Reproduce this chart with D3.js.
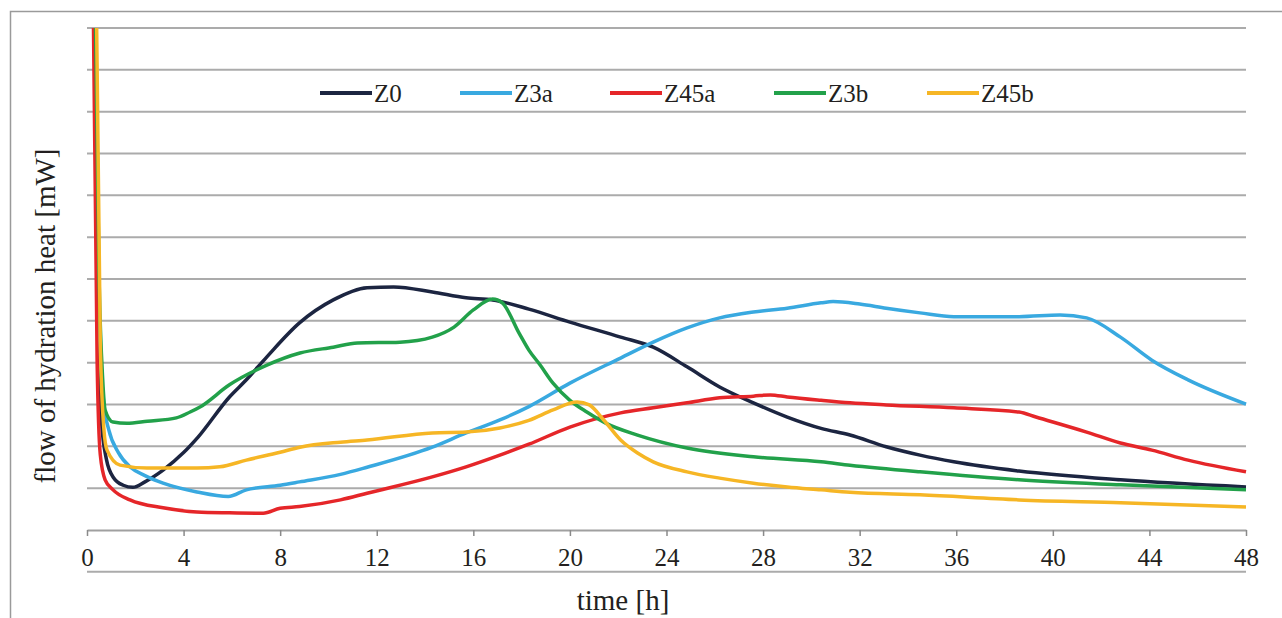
<!DOCTYPE html>
<html>
<head>
<meta charset="utf-8">
<script src="https://cdn.jsdelivr.net/npm/d3@7"></script>
<style>
  html, body { margin: 0; padding: 0; background: #fff; overflow: hidden; }
  svg { display: block; }
</style>
</head>
<body>
<svg id="chart" width="1282" height="618"></svg>
<script>
// series: [time h, heat flow] (y units = gridline steps)
var z0 = [[0.28,13],[0.45,5],[0.6,2.6],[0.8,1.7],[1.1,1.25],[1.5,1.07],[1.9,1.02],[2.4,1.15],[3.15,1.43],[4,1.85],[4.6,2.22],[5.9,3.18],[6.6,3.59],[7.45,4.14],[8.8,4.95],[10.2,5.5],[11.6,5.79],[12.7,5.81],[14.3,5.69],[15.7,5.55],[16.8,5.5],[18.3,5.28],[20,4.97],[22.1,4.61],[23.45,4.37],[24.85,3.9],[26.2,3.42],[27.6,3.04],[29,2.7],[30.4,2.43],[31.6,2.27],[33.1,1.99],[34.5,1.79],[35.9,1.63],[38.6,1.41],[42.8,1.2],[48,1.03]];
var z3a = [[0.33,13],[0.5,5],[0.7,3.0],[0.9,2.4],[1.3,1.85],[1.8,1.5],[2.4,1.3],[3.15,1.12],[4.55,0.91],[5.85,0.8],[6.6,0.96],[8,1.07],[8.8,1.15],[10.5,1.33],[11.6,1.5],[14.3,1.98],[15.7,2.32],[17.1,2.63],[18.3,2.95],[20,3.51],[22.1,4.11],[23.45,4.49],[24.85,4.83],[26.2,5.07],[27.6,5.21],[29,5.3],[30.4,5.43],[30.9,5.46],[32,5.4],[33.1,5.3],[34.5,5.19],[35.9,5.1],[38.6,5.1],[40.3,5.14],[41.4,5.07],[42.8,4.61],[44.1,4.06],[45.6,3.59],[48,3.01]];
var z45a = [[0.25,13],[0.42,4],[0.55,1.8],[0.75,1.2],[1.08,0.96],[1.78,0.72],[3.15,0.53],[4.55,0.43],[5.9,0.41],[7.3,0.4],[8,0.52],[8.8,0.56],[10.5,0.72],[11.6,0.88],[14.3,1.27],[15.7,1.51],[17.1,1.79],[18.3,2.05],[20,2.46],[22.1,2.8],[23.45,2.92],[24.85,3.04],[26.2,3.16],[27.6,3.2],[28.3,3.23],[29,3.18],[30.4,3.1],[31.6,3.04],[33.1,2.99],[35.9,2.92],[38.6,2.82],[39.3,2.7],[41.4,2.34],[42.8,2.08],[44.1,1.91],[45.6,1.67],[48,1.39]];
var z3b = [[0.33,13],[0.5,6],[0.65,3.6],[0.75,2.87],[1.08,2.58],[1.65,2.55],[2.5,2.6],[3.7,2.68],[4.27,2.82],[4.68,2.94],[5.9,3.47],[7.45,3.94],[8.82,4.23],[10.2,4.37],[11.2,4.47],[12.96,4.49],[14.3,4.61],[15.2,4.85],[16,5.26],[16.8,5.52],[17.2,5.43],[17.9,4.7],[18.3,4.3],[18.76,3.95],[19.3,3.51],[20,3.1],[20.7,2.82],[21.5,2.55],[22.8,2.27],[24.85,1.96],[27.6,1.75],[30.4,1.63],[31.6,1.55],[34.5,1.39],[38.6,1.2],[42.8,1.08],[48,0.96]];
var z45b = [[0.38,13],[0.55,4.5],[0.7,2.4],[0.83,1.91],[1.37,1.55],[2.48,1.48],[4.55,1.48],[5.5,1.51],[6.6,1.67],[8,1.86],[8.82,1.98],[10.5,2.1],[11.6,2.15],[14.3,2.32],[15.7,2.34],[17.1,2.44],[18.3,2.62],[19.3,2.87],[20.3,3.06],[20.8,2.99],[21.4,2.63],[22.1,2.15],[22.8,1.84],[23.45,1.63],[24.85,1.39],[26.2,1.24],[27.6,1.12],[29,1.03],[30.4,0.96],[31.6,0.9],[34.5,0.84],[38.6,0.72],[42.8,0.65],[48,0.55]];

var seriesNames = ["Z0", "Z3a", "Z45a", "Z3b", "Z45b"];
var seriesData = [z0, z3a, z45a, z3b, z45b];
var seriesColors = ["#1c2541", "#39a9e0", "#e52629", "#22a14a", "#f6b625"];
var xTicks = [0, 4, 8, 12, 16, 20, 24, 28, 32, 36, 40, 44, 48];
var gridValues = [1, 2, 3, 4, 5, 6, 7, 8, 9, 10, 11, 12];

var drawChart = function () {
  var serif = "'Liberation Serif', 'Times New Roman', serif";
  var svg = d3.select("#chart");
  var plotLeft = 87, plotRight = 1246, plotTop = 28, zeroY = 530;

  var x = d3.scaleLinear().domain([0, 48]).range([plotLeft, plotRight]);
  var y = d3.scaleLinear().domain([0, 12]).range([zeroY, plotTop]);

  // outer frame (only top and left edges show)
  svg.append("path")
    .attr("d", "M10.5,618 L10.5,11.5 L1282,11.5")
    .attr("fill", "none")
    .attr("stroke", "#9a9a9a")
    .attr("stroke-width", 1.5);

  // horizontal grid
  svg.append("g")
    .selectAll("line")
    .data(gridValues)
    .enter()
    .append("line")
    .attr("x1", plotLeft)
    .attr("x2", plotRight)
    .attr("y1", function (d) { return y(d); })
    .attr("y2", function (d) { return y(d); })
    .attr("stroke", "#ababab")
    .attr("stroke-width", 2);

  // rule under the tick labels, one grid step below zero
  svg.append("line")
    .attr("x1", plotLeft)
    .attr("x2", plotRight)
    .attr("y1", y(-1))
    .attr("y2", y(-1))
    .attr("stroke", "#ababab")
    .attr("stroke-width", 2);

  // x axis
  var xAxis = d3.axisBottom(x)
    .tickValues(xTicks)
    .tickSize(6)
    .tickPadding(12)
    .tickSizeOuter(0);

  var gx = svg.append("g")
    .attr("transform", "translate(0," + zeroY + ")")
    .call(xAxis);
  gx.select(".domain").attr("stroke", "#a0a0a0").attr("stroke-width", 2);
  gx.selectAll(".tick line").attr("stroke", "#8a8a8a").attr("stroke-width", 1.5);
  gx.selectAll(".tick text")
    .attr("font-family", serif)
    .attr("font-size", 25)
    .attr("fill", "#231f20");

  // curves, clipped at the top gridline
  svg.append("clipPath")
    .attr("id", "plotClip")
    .append("rect")
    .attr("x", plotLeft)
    .attr("y", plotTop)
    .attr("width", plotRight - plotLeft + 4)
    .attr("height", zeroY - plotTop + 30);

  var line = d3.line()
    .x(function (d) { return x(d[0]); })
    .y(function (d) { return y(d[1]); })
    .curve(d3.curveMonotoneX);

  svg.append("g")
    .attr("clip-path", "url(#plotClip)")
    .selectAll("path")
    .data(seriesData)
    .enter()
    .append("path")
    .attr("d", line)
    .attr("fill", "none")
    .attr("stroke", function (d, i) { return seriesColors[i]; })
    .attr("stroke-width", 3.5)
    .attr("stroke-linejoin", "round");

  // legend
  var legendX = [320, 460, 610, 774, 927];
  var legend = svg.append("g")
    .selectAll("g")
    .data(seriesNames)
    .enter()
    .append("g")
    .attr("transform", function (d, i) { return "translate(" + legendX[i] + ",93)"; });

  legend.append("line")
    .attr("x1", 0)
    .attr("x2", 52)
    .attr("stroke", function (d, i) { return seriesColors[i]; })
    .attr("stroke-width", 4);

  legend.append("text")
    .attr("x", 54)
    .attr("y", 9)
    .attr("font-family", serif)
    .attr("font-size", 25)
    .attr("fill", "#231f20")
    .text(function (d) { return d; });

  // axis titles
  svg.append("text")
    .attr("x", 623)
    .attr("y", 610)
    .attr("text-anchor", "middle")
    .attr("font-family", serif)
    .attr("font-size", 29)
    .attr("fill", "#231f20")
    .text("time [h]");

  svg.append("text")
    .attr("transform", "translate(55,316) rotate(-90)")
    .attr("text-anchor", "middle")
    .attr("font-family", serif)
    .attr("font-size", 29)
    .attr("fill", "#231f20")
    .text("flow of hydration heat [mW]");
};

drawChart();
</script>
</body>
</html>
